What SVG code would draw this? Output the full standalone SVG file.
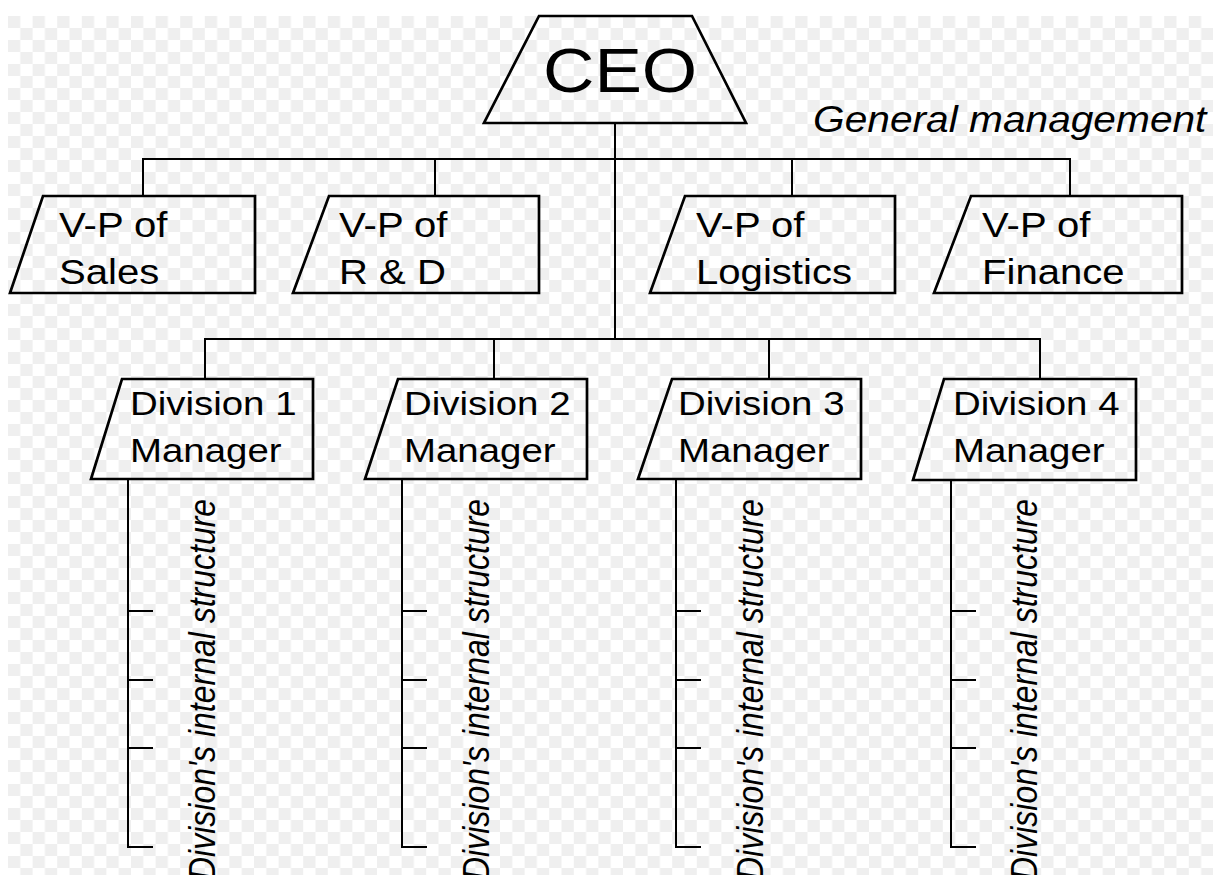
<svg xmlns="http://www.w3.org/2000/svg" width="1213" height="875" viewBox="0 0 1213 875">
<defs>
<pattern id="checker" x="8" y="16" width="24.6" height="24" patternUnits="userSpaceOnUse">
<rect x="0" y="0" width="24.6" height="24" fill="#ffffff"/>
<rect x="0" y="0" width="12.3" height="12" fill="#efefef"/>
<rect x="12.3" y="12" width="12.3" height="12" fill="#efefef"/>
</pattern>
</defs>
<style>
.box{fill:none;stroke:#000;stroke-width:2.7;stroke-linejoin:miter}
.ln{fill:none;stroke:#000;stroke-width:2}
.t{font-family:"Liberation Sans",Arial,Helvetica,sans-serif;fill:#000}
.vp{font-size:35.5px}
.dv{font-size:34px}
.it{font-style:italic}
</style>
<rect x="0" y="0" width="1213" height="875" fill="#ffffff"/>
<rect x="8" y="16" width="1205" height="859" fill="url(#checker)"/>

<g id="connectors">
<path class="ln" d="M615,123 V339"/>
<path class="ln" d="M143,196 V159 H1070 V196"/>
<path class="ln" d="M435,159 V196 M792,159 V196"/>
<path class="ln" d="M205,379 V339 H1040 V379"/>
<path class="ln" d="M494,339 V379 M769,339 V379"/>
<path class="ln" d="M128,479 V847 H153 M128,611 H153 M128,680 H153 M128,748 H153"/>
<path class="ln" d="M402,479 V847 H427 M402,611 H427 M402,680 H427 M402,748 H427"/>
<path class="ln" d="M676,479 V847 H701 M676,611 H701 M676,680 H701 M676,748 H701"/>
<path class="ln" d="M951,480 V847 H976 M951,611 H976 M951,680 H976 M951,748 H976"/>
</g>

<g id="ceo">
<polygon class="box" points="539,16 692,16 746,123 484,123"/>
<text class="t" font-size="63" transform="translate(543 92) scale(1.13 1)">CEO</text>
</g>

<g id="general-management">
<text class="t it" font-size="36" transform="translate(813 132) scale(1.13 1)">General management</text>
</g>

<g id="vp-sales">
<polygon class="box" points="43,196 255,196 255,293 10,293"/>
<text class="t vp" transform="translate(59 237) scale(1.13 1)">V-P of</text>
<text class="t vp" transform="translate(59 284) scale(1.13 1)">Sales</text>
</g>
<g id="vp-rd">
<polygon class="box" points="329,196 539,196 539,293 293,293"/>
<text class="t vp" transform="translate(339 237) scale(1.13 1)">V-P of</text>
<text class="t vp" transform="translate(339 284) scale(1.13 1)">R &amp; D</text>
</g>
<g id="vp-logistics">
<polygon class="box" points="685,196 895,196 895,293 650,293"/>
<text class="t vp" transform="translate(696 237) scale(1.13 1)">V-P of</text>
<text class="t vp" transform="translate(696 284) scale(1.13 1)">Logistics</text>
</g>
<g id="vp-finance">
<polygon class="box" points="971,196 1182,196 1182,293 934,293"/>
<text class="t vp" transform="translate(982 237) scale(1.13 1)">V-P of</text>
<text class="t vp" transform="translate(982 284) scale(1.13 1)">Finance</text>
</g>

<g id="division-1">
<polygon class="box" points="122,379 313,379 313,479 91,479"/>
<text class="t dv" transform="translate(130 415) scale(1.13 1)">Division 1</text>
<text class="t dv" transform="translate(130 462) scale(1.13 1)">Manager</text>
<text class="t it" font-size="32" transform="translate(215 880) scale(1.13 1) rotate(-90)">Division's internal structure</text>
</g>
<g id="division-2">
<polygon class="box" points="398,379 587,379 587,479 365,479"/>
<text class="t dv" transform="translate(404 415) scale(1.13 1)">Division 2</text>
<text class="t dv" transform="translate(404 462) scale(1.13 1)">Manager</text>
<text class="t it" font-size="32" transform="translate(489 880) scale(1.13 1) rotate(-90)">Division's internal structure</text>
</g>
<g id="division-3">
<polygon class="box" points="672,379 861,379 861,479 638,479"/>
<text class="t dv" transform="translate(678 415) scale(1.13 1)">Division 3</text>
<text class="t dv" transform="translate(678 462) scale(1.13 1)">Manager</text>
<text class="t it" font-size="32" transform="translate(763 880) scale(1.13 1) rotate(-90)">Division's internal structure</text>
</g>
<g id="division-4">
<polygon class="box" points="944,379 1136,379 1136,480 913,480"/>
<text class="t dv" transform="translate(953 415) scale(1.13 1)">Division 4</text>
<text class="t dv" transform="translate(953 462) scale(1.13 1)">Manager</text>
<text class="t it" font-size="32" transform="translate(1037 880) scale(1.13 1) rotate(-90)">Division's internal structure</text>
</g>
</svg>
